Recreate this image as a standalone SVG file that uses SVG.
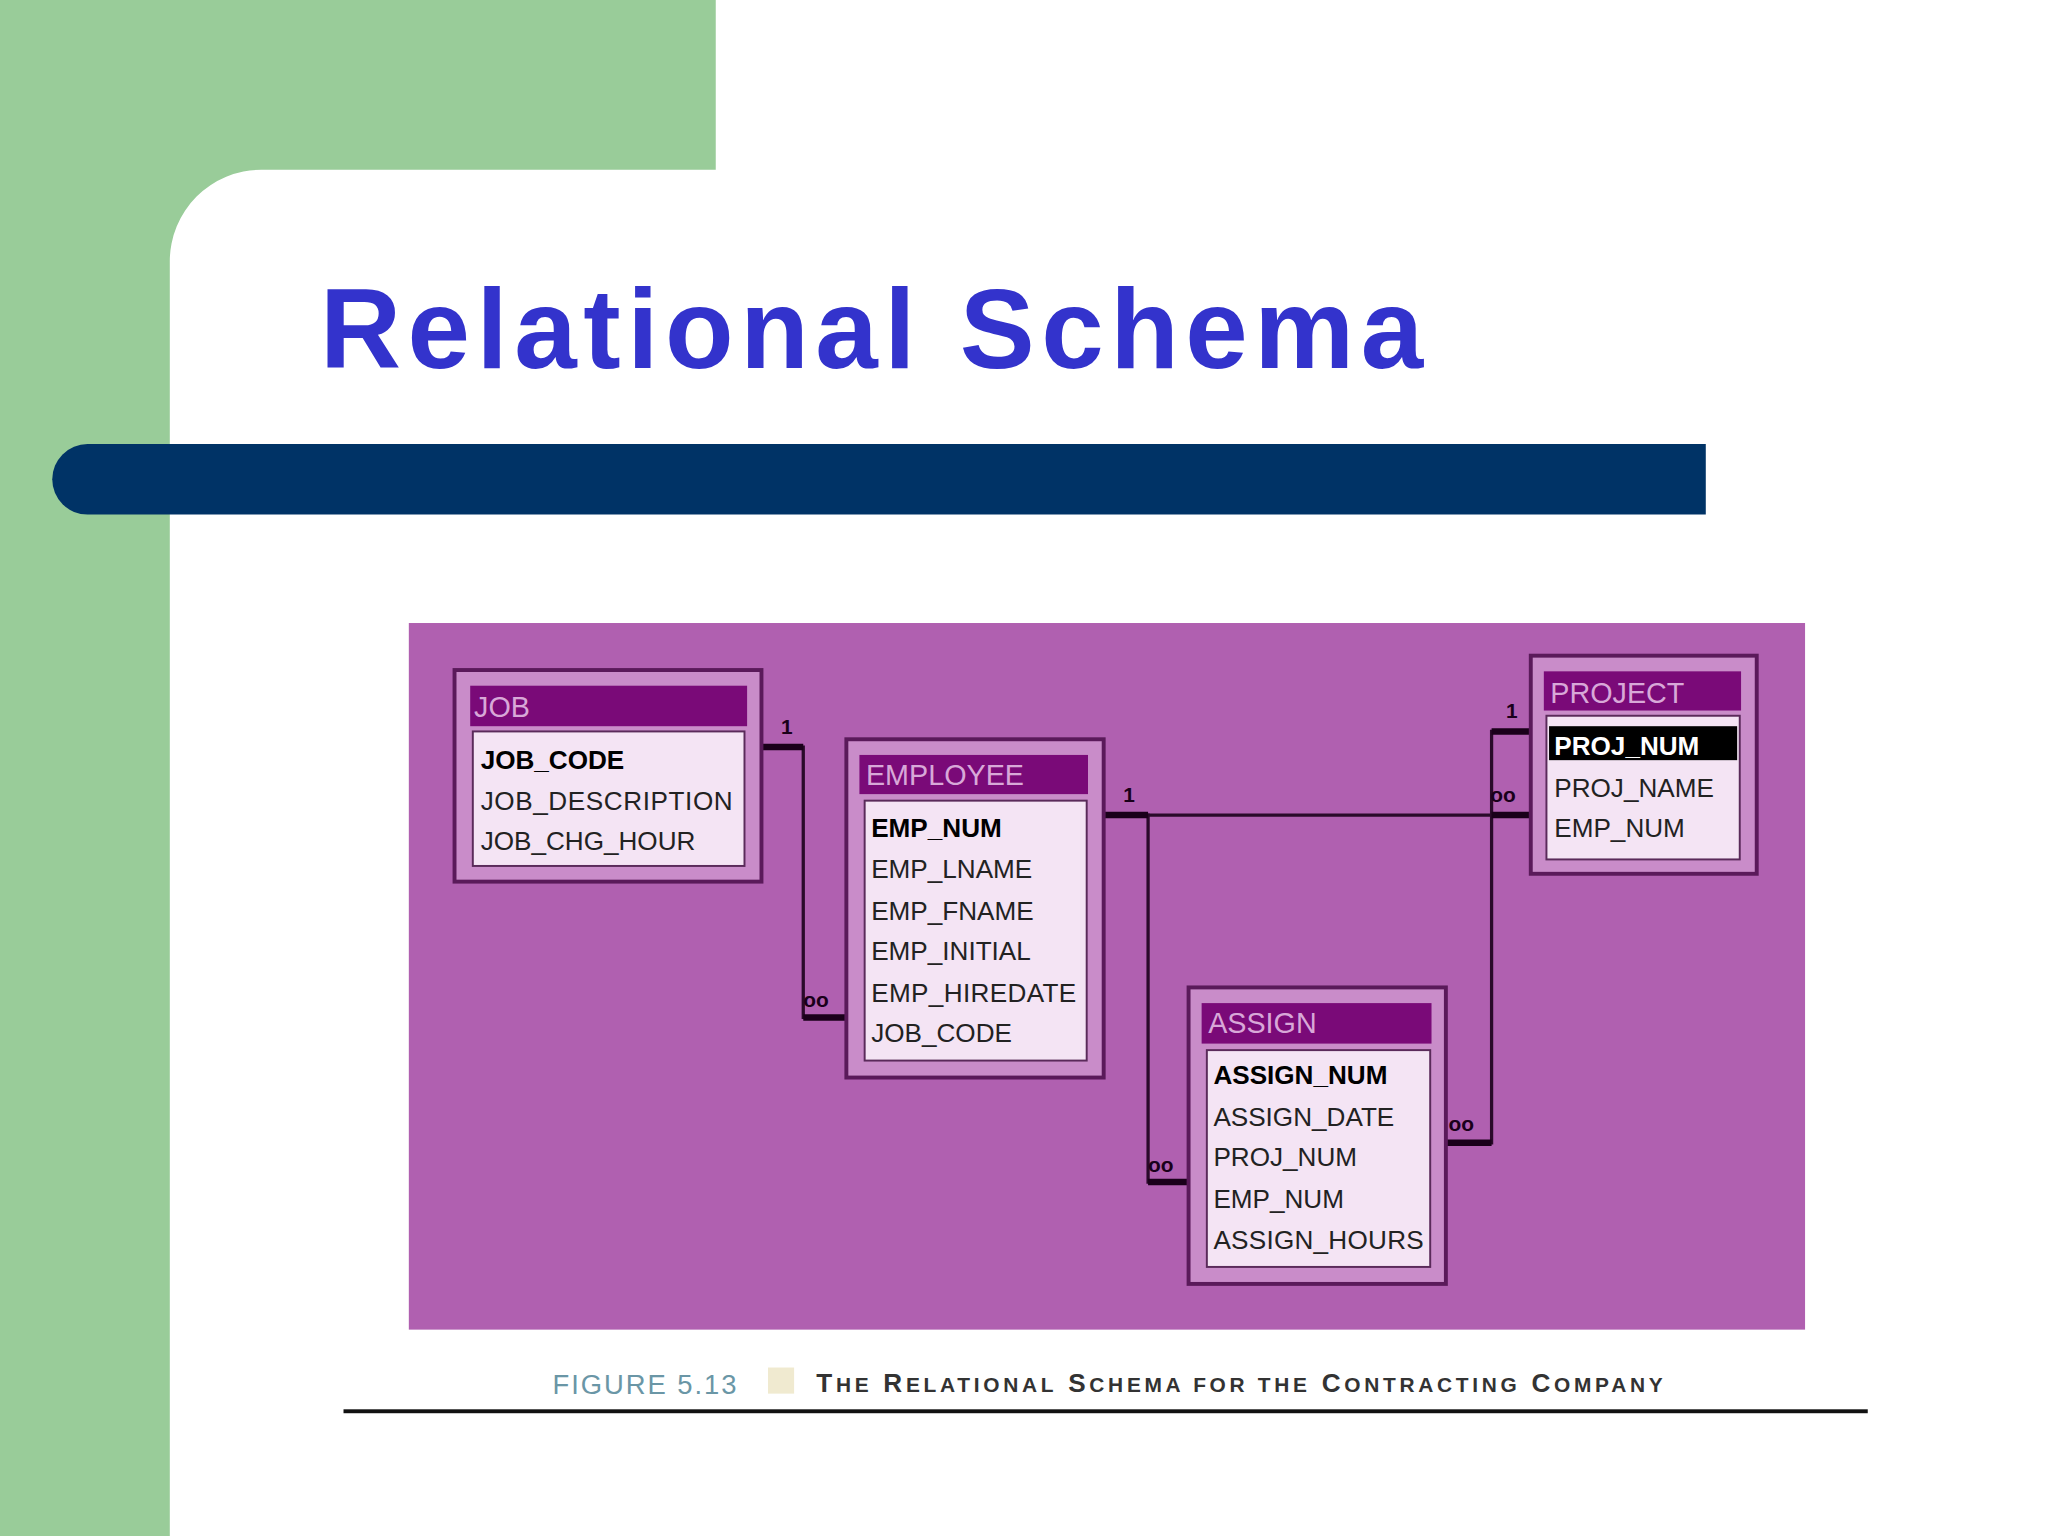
<svg xmlns="http://www.w3.org/2000/svg" width="2048" height="1536" viewBox="0 0 2048 1536">
<style>
.frame{fill:#c98cc9;stroke:#5a1a5a;stroke-width:3}
.tbar{fill:#7a0a78}
.fld{fill:#f4e4f4;stroke:#5a2a5a;stroke-width:1.5}
.tt{font-family:"Liberation Sans",Arial,sans-serif;font-size:22px;fill:#d8a8d8}
.f{font-family:"Liberation Sans",Arial,sans-serif;font-size:20px;fill:#222}
.k{font-weight:bold;fill:#000}
.ln{fill:none;stroke:#2a0a2a;stroke-width:2.5}
.th{stroke:#1a001a;stroke-width:5}
.lb{font-family:"Liberation Sans",Arial,sans-serif;font-size:16px;font-weight:bold;fill:#1a001a}
</style>
<rect width="2048" height="1536" fill="#fff"/>
<g transform="scale(1.30612)">
<path d="M0 0H548V130H200A70 70 0 0 0 130 200V1176H0Z" fill="#99cc99"/>
<text x="245" y="282" font-family="Liberation Sans,Arial,sans-serif" font-size="86" font-weight="bold" fill="#3333cc" letter-spacing="5">Relational Schema</text>
<path d="M67 340H1306V394H67A27 27 0 0 1 67 340Z" fill="#003366"/>
<rect x="313" y="477" width="1069" height="541" fill="#b060b0"/>
<g id="connectors">
<path class="ln" d="M583 572H615V779H648"/>
<path class="ln" d="M845 624H879V905H910"/>
<path class="ln" d="M879 624H1172"/>
<path class="ln" d="M1172 560H1142V875H1107"/>
<path class="th" d="M584 572H615M615 779H647M846 624H879M879 905H909M1142 624H1171M1142 560H1171M1107 875H1142"/>
<text class="lb" x="598" y="562">1</text><text class="lb" x="615" y="771">oo</text>
<text class="lb" x="860" y="614">1</text><text class="lb" x="879" y="897">oo</text>
<text class="lb" x="1153" y="550">1</text><text class="lb" x="1141" y="614">oo</text>
<text class="lb" x="1109" y="866">oo</text>
</g>
<g id="job">
<rect class="frame" x="348" y="513" width="235" height="162"/>
<rect class="tbar" x="360" y="525" width="212" height="31"/>
<text class="tt" x="363" y="549">JOB</text>
<rect class="fld" x="362" y="560" width="208" height="103"/>
<text class="f k" x="368" y="589">JOB_CODE</text>
<text class="f" x="368" y="620" textLength="193">JOB_DESCRIPTION</text>
<text class="f" x="368" y="651">JOB_CHG_HOUR</text>
</g>
<g id="employee">
<rect class="frame" x="648" y="566" width="197" height="259"/>
<rect class="tbar" x="658" y="578" width="175" height="30"/>
<text class="tt" x="663" y="601">EMPLOYEE</text>
<rect class="fld" x="662" y="613" width="170" height="199"/>
<text class="f k" x="667" y="641">EMP_NUM</text>
<text class="f" x="667" y="672">EMP_LNAME</text>
<text class="f" x="667" y="704">EMP_FNAME</text>
<text class="f" x="667" y="735">EMP_INITIAL</text>
<text class="f" x="667" y="767" textLength="157">EMP_HIREDATE</text>
<text class="f" x="667" y="798">JOB_CODE</text>
</g>
<g id="project">
<rect class="frame" x="1172" y="502" width="173" height="167"/>
<rect class="tbar" x="1182" y="514" width="151" height="30"/>
<text class="tt" x="1187" y="538">PROJECT</text>
<rect class="fld" x="1184" y="548" width="148" height="110"/>
<rect x="1186" y="556" width="144" height="26" fill="#000"/>
<text class="f k" x="1190" y="578" style="fill:#fff">PROJ_NUM</text>
<text class="f" x="1190" y="610">PROJ_NAME</text>
<text class="f" x="1190" y="641">EMP_NUM</text>
</g>
<g id="assign">
<rect class="frame" x="910" y="756" width="197" height="227"/>
<rect class="tbar" x="920" y="768" width="176" height="31"/>
<text class="tt" x="925" y="791">ASSIGN</text>
<rect class="fld" x="924" y="804" width="171" height="166"/>
<text class="f k" x="929" y="830">ASSIGN_NUM</text>
<text class="f" x="929" y="862">ASSIGN_DATE</text>
<text class="f" x="929" y="893">PROJ_NUM</text>
<text class="f" x="929" y="925">EMP_NUM</text>
<text class="f" x="929" y="956" textLength="161">ASSIGN_HOURS</text>
</g>
<text x="423" y="1067" font-family="Liberation Sans,Arial,sans-serif" font-size="21" fill="#6a96a6" letter-spacing="1.5">FIGURE 5.13</text>
<rect x="588" y="1047" width="20" height="20" fill="#f0ead0"/>
<text x="625" y="1066" font-family="Liberation Sans,Arial,sans-serif" font-size="20" font-weight="bold" fill="#333" textLength="648">T<tspan font-size="16">HE</tspan> R<tspan font-size="16">ELATIONAL</tspan> S<tspan font-size="16">CHEMA FOR THE</tspan> C<tspan font-size="16">ONTRACTING</tspan> C<tspan font-size="16">OMPANY</tspan></text>
<rect x="263" y="1079" width="1167" height="3" fill="#111"/>
</g>
</svg>
